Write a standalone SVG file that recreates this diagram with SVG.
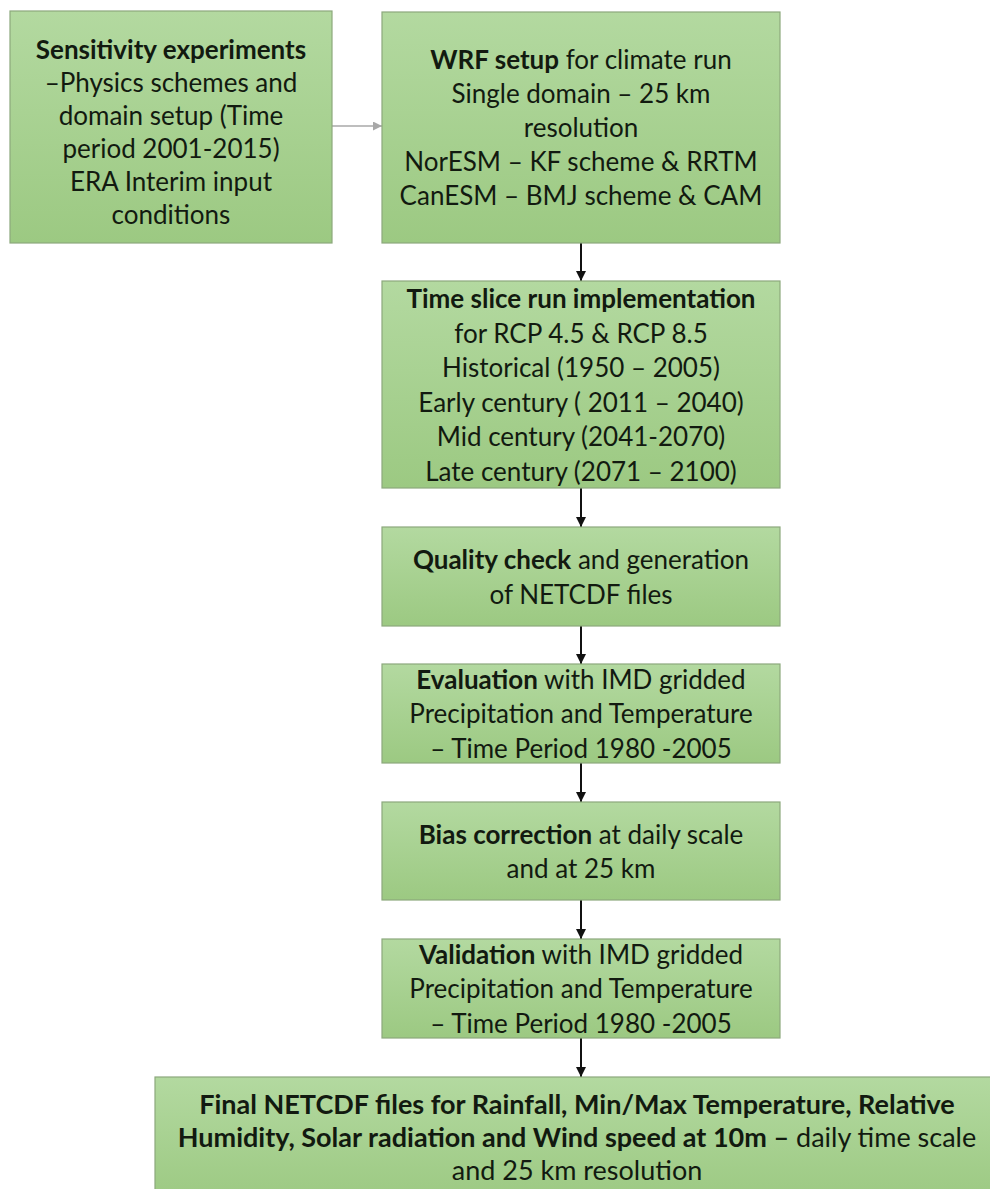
<svg xmlns="http://www.w3.org/2000/svg" width="990" height="1189" viewBox="0 0 990 1189">
<defs>
<linearGradient id="g" x1="0" y1="0" x2="0" y2="1">
<stop offset="0" stop-color="#b3d9a0"/>
<stop offset="1" stop-color="#9cc982"/>
</linearGradient>
<marker id="ah" viewBox="0 0 10 10" refX="10" refY="5" markerWidth="5" markerHeight="5" orient="auto" markerUnits="strokeWidth">
<path d="M0,0 L10,5 L0,10 z" fill="#111"/>
</marker>
<marker id="ahg" viewBox="0 0 10 10" refX="10" refY="5" markerWidth="6" markerHeight="6" orient="auto" markerUnits="strokeWidth">
<path d="M0,0 L10,5 L0,10 z" fill="#a8a8a8"/>
</marker>
<style>
.box{fill:url(#g);stroke:#8ca87c;stroke-width:1.2}
.t{font-family:Lato,"Open Sans","Liberation Sans",sans-serif;font-size:26px;fill:#121a10;text-anchor:middle}
.f{font-size:27px}
.b{font-weight:bold}
.arr{stroke:#111;stroke-width:2;fill:none;marker-end:url(#ah)}
.arrg{stroke:#a8a8a8;stroke-width:1.5;fill:none;marker-end:url(#ahg)}
</style>
</defs>
<rect width="990" height="1189" fill="#ffffff"/>
<g id="connectors">
<line class="arrg" x1="332" y1="126" x2="382" y2="126"/>
<line class="arr" x1="581" y1="243" x2="581" y2="281"/>
<line class="arr" x1="581" y1="488" x2="581" y2="527"/>
<line class="arr" x1="581" y1="626" x2="581" y2="664"/>
<line class="arr" x1="581" y1="763" x2="581" y2="802"/>
<line class="arr" x1="581" y1="900" x2="581" y2="939"/>
<line class="arr" x1="581" y1="1038" x2="581" y2="1077"/>
</g>
<g id="node-sensitivity">
<rect class="box" x="10" y="11" width="322" height="232"/>
<text class="t b" x="171" y="59">Sensitivity experiments</text>
<text class="t" x="171" y="92">–Physics schemes and</text>
<text class="t" x="171" y="125">domain setup (Time</text>
<text class="t" x="171" y="158">period 2001-2015)</text>
<text class="t" x="171" y="191">ERA Interim input</text>
<text class="t" x="171" y="224">conditions</text>
</g>
<g id="node-wrf">
<rect class="box" x="382" y="12" width="398" height="231"/>
<text class="t" x="581" y="69"><tspan class="b">WRF setup</tspan> for climate run</text>
<text class="t" x="581" y="103">Single domain – 25 km</text>
<text class="t" x="581" y="137">resolution</text>
<text class="t" x="581" y="171">NorESM – KF scheme &amp; RRTM</text>
<text class="t" x="581" y="205">CanESM – BMJ scheme &amp; CAM</text>
</g>
<g id="node-timeslice">
<rect class="box" x="382" y="281" width="398" height="207"/>
<text class="t b" x="581" y="308">Time slice run implementation</text>
<text class="t" x="581" y="343">for RCP 4.5 &amp; RCP 8.5</text>
<text class="t" x="581" y="377">Historical (1950 – 2005)</text>
<text class="t" x="581" y="412">Early century ( 2011 – 2040)</text>
<text class="t" x="581" y="446">Mid century (2041-2070)</text>
<text class="t" x="581" y="481">Late century (2071 – 2100)</text>
</g>
<g id="node-quality">
<rect class="box" x="382" y="527" width="398" height="99"/>
<text class="t" x="581" y="569"><tspan class="b">Quality check</tspan> and generation</text>
<text class="t" x="581" y="604">of NETCDF files</text>
</g>
<g id="node-evaluation">
<rect class="box" x="382" y="664" width="398" height="99"/>
<text class="t" x="581" y="689"><tspan class="b">Evaluation</tspan> with IMD gridded</text>
<text class="t" x="581" y="723">Precipitation and Temperature</text>
<text class="t" x="581" y="758">– Time Period 1980 -2005</text>
</g>
<g id="node-bias">
<rect class="box" x="382" y="802" width="398" height="98"/>
<text class="t" x="581" y="844"><tspan class="b">Bias correction</tspan> at daily scale</text>
<text class="t" x="581" y="878">and at 25 km</text>
</g>
<g id="node-validation">
<rect class="box" x="382" y="939" width="398" height="99"/>
<text class="t" x="581" y="964"><tspan class="b">Validation</tspan> with IMD gridded</text>
<text class="t" x="581" y="998">Precipitation and Temperature</text>
<text class="t" x="581" y="1033">– Time Period 1980 -2005</text>
</g>
<g id="node-final">
<rect class="box" x="155" y="1077" width="845" height="125"/>
<text class="t f b" x="577" y="1114">Final NETCDF files for Rainfall, Min/Max Temperature, Relative</text>
<text class="t f" x="577" y="1147"><tspan class="b">Humidity, Solar radiation and Wind speed at 10m –</tspan> daily time scale</text>
<text class="t f" x="577" y="1180">and 25 km resolution</text>
</g>
</svg>
